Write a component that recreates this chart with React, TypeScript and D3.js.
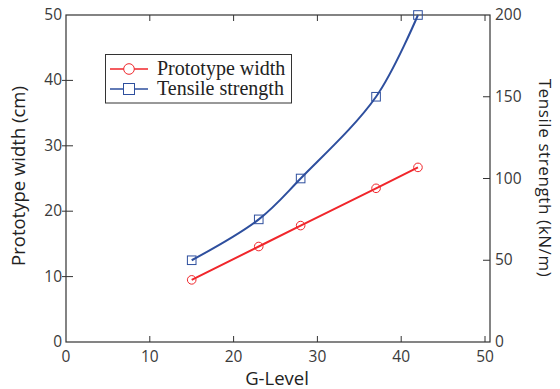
import { useRef, useEffect } from "react";
import * as d3 from "d3";

const gLevels = [15, 23, 28, 37, 42];
const prototypeWidth = [9.5, 14.6, 17.8, 23.5, 26.7];
const tensileStrength = [50, 75, 100, 150, 200];
const xTicks = [0, 10, 20, 30, 40, 50];
const leftTicks = [0, 10, 20, 30, 40, 50];
const rightTicks = [0, 50, 100, 150, 200];

const RED = "#f0262b";
const BLUE = "#2e4f9e";
const AXIS = "#333";
const LABEL = "#3a3a3a";
const SANS = "'Open Sans', 'Noto Sans', sans-serif";

export default function App() {
  const svgRef = useRef<SVGSVGElement>(null);

  useEffect(() => {
    if (!svgRef.current) return;
    const svg = d3.select(svgRef.current);
    svg.selectAll("*").remove();

    const left = 66, right = 490, top = 15, bottom = 342;

    const x = d3.scaleLinear().domain([0, 50]).range([left, 485]);
    const yL = d3.scaleLinear().domain([0, 50]).range([bottom, top]);
    const yR = d3.scaleLinear().domain([0, 200]).range([bottom, top]);

    // frame
    svg.append("rect")
      .attr("x", left).attr("y", top)
      .attr("width", right - left).attr("height", bottom - top)
      .attr("fill", "none").attr("stroke", AXIS).attr("stroke-width", 1.2);

    // x ticks bottom and top, pointing inward
    const gx = svg.append("g");
    xTicks.forEach((t) => {
      const px = x(t);
      if (t !== 0) {
        gx.append("line").attr("x1", px).attr("x2", px).attr("y1", bottom).attr("y2", bottom - 6)
          .attr("stroke", AXIS).attr("stroke-width", 1);
        gx.append("line").attr("x1", px).attr("x2", px).attr("y1", top).attr("y2", top + 6)
          .attr("stroke", AXIS).attr("stroke-width", 1);
      }
      gx.append("text").attr("x", px).attr("y", 362)
        .attr("text-anchor", "middle").attr("fill", LABEL)
        .style("font-family", SANS).style("font-size", "15.5px")
        .text(String(t));
    });

    // left ticks
    leftTicks.forEach((t) => {
      const py = yL(t);
      if (t !== 0 && t !== 50) {
        svg.append("line").attr("x1", left - 4).attr("x2", left + 7).attr("y1", py).attr("y2", py)
          .attr("stroke", AXIS).attr("stroke-width", 1);
      }
      svg.append("text").attr("x", 62).attr("y", py + 5)
        .attr("text-anchor", "end").attr("fill", LABEL)
        .style("font-family", SANS).style("font-size", "15.5px")
        .text(String(t));
    });

    // right ticks (inward)
    rightTicks.forEach((t) => {
      const py = yR(t);
      if (t !== 0 && t !== 200) {
        svg.append("line").attr("x1", right - 7).attr("x2", right).attr("y1", py).attr("y2", py)
          .attr("stroke", AXIS).attr("stroke-width", 1);
      }
      svg.append("text").attr("x", 495).attr("y", py + 5)
        .attr("text-anchor", "start").attr("fill", LABEL)
        .style("font-family", SANS).style("font-size", "15.5px")
        .text(String(t));
    });

    // axis labels
    svg.append("text").attr("x", 277).attr("y", 385)
      .attr("text-anchor", "middle").attr("fill", "#222")
      .style("font-family", SANS).style("font-size", "18.5px").text("G-Level");
    svg.append("text").attr("transform", "translate(25,176) rotate(-90)")
      .attr("text-anchor", "middle").attr("fill", "#222")
      .style("font-family", SANS).style("font-size", "18.5px").text("Prototype width (cm)");
    svg.append("text").attr("transform", "translate(539,178) rotate(90)")
      .attr("text-anchor", "middle").attr("fill", "#222")
      .style("font-family", SANS).style("font-size", "17px").style("letter-spacing", "0.6px")
      .text("Tensile strength (kN/m)");

    // series
    const redPts = gLevels.map((g, i) => [x(g), yL(prototypeWidth[i])] as [number, number]);
    const bluePts = gLevels.map((g, i) => [x(g), yR(tensileStrength[i])] as [number, number]);

    svg.append("path").attr("d", d3.line()(redPts)!)
      .attr("fill", "none").attr("stroke", RED).attr("stroke-width", 2);
    svg.append("path").attr("d", d3.line().curve(d3.curveCatmullRom.alpha(0.5))(bluePts)!)
      .attr("fill", "none").attr("stroke", BLUE).attr("stroke-width", 2);

    svg.selectAll("circle.m").data(redPts).join("circle")
      .attr("cx", (d) => d[0]).attr("cy", (d) => d[1]).attr("r", 4.3)
      .attr("fill", "none").attr("stroke", RED).attr("stroke-width", 1);
    svg.selectAll("rect.m").data(bluePts).join("rect").attr("class", "m")
      .attr("x", (d) => d[0] - 4.3).attr("y", (d) => d[1] - 4.3)
      .attr("width", 8.6).attr("height", 8.6)
      .attr("fill", "none").attr("stroke", BLUE).attr("stroke-width", 1);

    // legend
    const lg = svg.append("g");
    lg.append("rect").attr("x", 105.5).attr("y", 54.5).attr("width", 186).attr("height", 48.5)
      .attr("fill", "white").attr("stroke", AXIS).attr("stroke-width", 1);
    const rows = [
      { label: "Prototype width", color: RED, shape: "circle" },
      { label: "Tensile strength", color: BLUE, shape: "square" },
    ];
    rows.forEach((r, i) => {
      const cy = 69 + i * 20;
      lg.append("line").attr("x1", 110).attr("x2", 148).attr("y1", cy).attr("y2", cy)
        .attr("stroke", r.color).attr("stroke-width", 1.5);
      if (r.shape === "circle") {
        lg.append("circle").attr("cx", 129).attr("cy", cy).attr("r", 5.3)
          .attr("fill", "white").attr("stroke", r.color).attr("stroke-width", 1);
      } else {
        lg.append("rect").attr("x", 123.5).attr("y", cy - 5.5).attr("width", 11).attr("height", 11)
          .attr("fill", "white").attr("stroke", r.color).attr("stroke-width", 1);
      }
      lg.append("text").attr("x", 157).attr("y", cy + 6)
        .attr("fill", "#222")
        .style("font-family", "'Liberation Serif', serif").style("font-size", "20px")
        .text(r.label);
    });
  }, []);

  return <svg ref={svgRef} width={560} height={389} style={{ position: "absolute", left: 0, top: 0, background: "white" }} />;
}
